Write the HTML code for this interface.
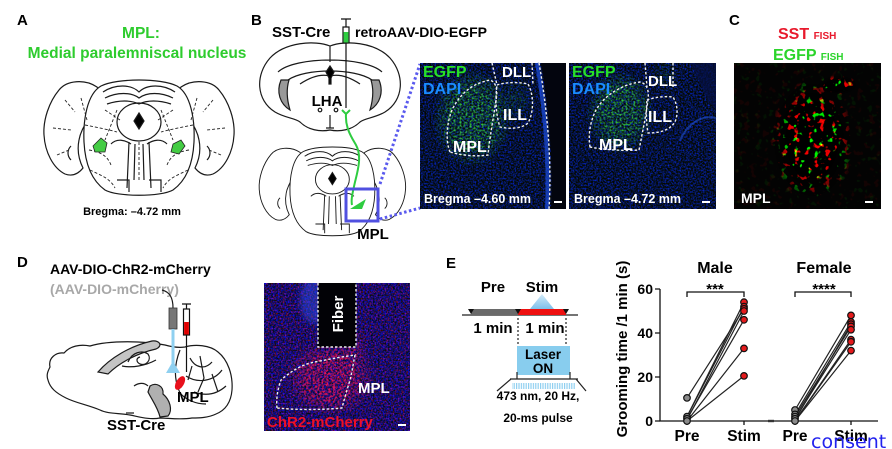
<!DOCTYPE html>
<html><head><meta charset="utf-8"><style>
html,body{margin:0;padding:0;background:#fff;}
svg{display:block;}
text{font-family:"Liberation Sans",Arial,sans-serif;font-weight:bold;}
</style></head><body>
<svg width="892" height="449" viewBox="0 0 892 449" xmlns="http://www.w3.org/2000/svg">
<defs>
  <filter id="fB" x="0" y="0" width="1" height="1" color-interpolation-filters="sRGB">
    <feTurbulence type="fractalNoise" baseFrequency="0.6" numOctaves="2" seed="4"/>
    <feColorMatrix type="matrix" values="0 0 0 0 0.02  0 0 0.22 0 -0.04  0 0 1.8 0 -0.68  0 0 0 0 1"/>
  </filter>
  <filter id="fG" x="0" y="0" width="1" height="1" color-interpolation-filters="sRGB">
    <feTurbulence type="fractalNoise" baseFrequency="0.5" numOctaves="2" seed="7"/>
    <feColorMatrix type="matrix" values="0 0 0 0 0.2  0 0 0 0 0.78  0 0 0 0 0.25  0 3 0 0 -1.3"/>
  </filter>
  <filter id="fD" x="0" y="0" width="1" height="1" color-interpolation-filters="sRGB">
    <feTurbulence type="fractalNoise" baseFrequency="0.6" numOctaves="2" seed="3"/>
    <feColorMatrix type="matrix" values="1.5 0 0 0 -0.7  0 0 0 0 0.05  0 0 1.7 0 -0.45  0 0 0 0 1"/>
  </filter>
  <filter id="fR" x="0" y="0" width="1" height="1" color-interpolation-filters="sRGB">
    <feTurbulence type="fractalNoise" baseFrequency="0.45" numOctaves="2" seed="9"/>
    <feColorMatrix type="matrix" values="0 0 0 0 0.92  0 0 0 0 0.08  0 0 0 0 0.35  3.5 0 0 0 -1.45"/>
  </filter>
  <filter id="fC" x="0" y="0" width="1" height="1" color-interpolation-filters="sRGB">
    <feTurbulence type="fractalNoise" baseFrequency="0.16" numOctaves="2" seed="11"/>
    <feColorMatrix type="matrix" values="12 0 0 0 -7.5  0 12 0 0 -7.7  0 0 0 0 0  0 0 0 0 1"/>
  </filter>
  <filter id="blur3"><feGaussianBlur stdDeviation="3"/></filter>
  <clipPath id="cD"><rect x="264" y="283" width="146" height="148"/></clipPath>
  <radialGradient id="rgW"><stop offset="0" stop-color="#fff"/><stop offset="0.55" stop-color="#fff" stop-opacity="0.9"/><stop offset="1" stop-color="#fff" stop-opacity="0"/></radialGradient>
  <radialGradient id="rgW2"><stop offset="0" stop-color="#fff" stop-opacity="0.9"/><stop offset="1" stop-color="#fff" stop-opacity="0"/></radialGradient>
  <linearGradient id="beam" x1="0" y1="0" x2="0" y2="1"><stop offset="0" stop-color="#cfe9f8"/><stop offset="1" stop-color="#6fb8e8"/></linearGradient>
  <pattern id="stripe" width="2.4" height="8" patternUnits="userSpaceOnUse"><rect width="1.2" height="8" fill="#8ecff0"/></pattern>

  <mask id="mG1" maskUnits="userSpaceOnUse" x="420" y="63" width="146" height="146">
    <ellipse cx="472" cy="118" rx="40" ry="50" fill="url(#rgW)"/>
    <ellipse cx="515" cy="100" rx="20" ry="25" fill="url(#rgW2)" opacity="0.5"/>
  </mask>
  <mask id="mG2" maskUnits="userSpaceOnUse" x="569" y="63" width="147" height="146">
    <ellipse cx="620" cy="112" rx="34" ry="42" fill="url(#rgW)"/>
    <ellipse cx="665" cy="75" rx="15" ry="20" fill="url(#rgW2)" opacity="0.35"/>
  </mask>
  <mask id="mR" maskUnits="userSpaceOnUse" x="264" y="283" width="146" height="148">
    <rect x="264" y="283" width="146" height="148" fill="#1c1c1c"/>
    <ellipse cx="330" cy="378" rx="45" ry="38" fill="url(#rgW)"/>
    <ellipse cx="352" cy="350" rx="20" ry="25" fill="url(#rgW2)" opacity="0.7"/>
  </mask>
  <mask id="mC" maskUnits="userSpaceOnUse" x="734" y="63" width="147" height="146">
    <rect x="734" y="63" width="147" height="146" fill="#101010"/>
    <ellipse cx="812" cy="140" rx="42" ry="62" fill="url(#rgW)"/>
    <ellipse cx="838" cy="85" rx="20" ry="10" fill="url(#rgW)"/>
  </mask>

  <g id="hb" stroke="#1a1a1a" stroke-width="1.2" fill="none">
    <path d="M52,7 C40,-1 22,0 14,10 C4,22 -2,40 -1,55 C0,72 8,88 20,94 C28,97 34,93 38,88 C34,80 32,70 34,60 C36,48 44,40 48,30 C52,20 56,12 52,7 Z" fill="#fff"/>
    <path d="M136,7 C148,-1 166,0 174,10 C184,22 190,40 189,55 C188,72 180,88 168,94 C160,97 154,93 150,88 C154,80 156,70 154,60 C152,48 144,40 140,30 C136,20 132,12 136,7 Z" fill="#fff"/>
    <path d="M56,6 C72,-2 116,-2 132,6 C146,14 150,40 149,62 C148,82 142,100 128,110 C116,117 72,117 60,110 C46,100 40,82 39,62 C38,40 42,14 56,6 Z" fill="#fff"/>
    <path d="M58,12 C70,4 86,4 94,12 C102,4 118,4 130,12 M60,18 C72,12 86,12 94,18 C102,12 116,12 128,18 M62,24 C74,20 86,20 94,24 C102,20 114,20 126,24"/>
    <ellipse cx="94" cy="42" rx="22" ry="19"/>
    <path d="M94,33 L99,41 L94,49 L89,41 Z" fill="#000"/>
    <path d="M84,62 L82,108 M104,62 L106,108 M90,64 L89,100 M98,64 L99,100 M72,100 L84,100 L84,112 M104,100 L116,100 L116,112"/>
    <path d="M66,64 C72,58 80,60 86,64 M122,64 C116,58 108,60 102,64"/>
    <path d="M26,66 C22,70 22,76 26,80 M162,66 C166,70 166,76 162,80"/>
  </g>
</defs>

<rect width="892" height="449" fill="#fff"/>

<!-- ===== Panel A ===== -->
<text x="17" y="25" font-size="15" fill="#000">A</text>
<text x="141" y="38" font-size="15.5" fill="#2ecc2e" text-anchor="middle">MPL:</text>
<text x="137" y="58" font-size="15.5" fill="#2ecc2e" text-anchor="middle">Medial paralemniscal nucleus</text>
<g transform="translate(45,80)">
  <use href="#hb"/>
  <g stroke="#222" stroke-width="0.9" fill="none" stroke-dasharray="3 2">
    <path d="M40,45 C55,48 65,50 72,52 M148,45 C133,48 123,50 116,52 M60,30 L75,40 M128,30 L113,40 M44,70 C55,72 62,75 66,85 M144,70 C133,72 126,75 122,85 M20,20 L30,32 M8,48 L26,50 M168,20 L158,32 M180,48 L162,50 M12,75 L24,70 M176,75 L164,70 M45,90 C55,95 65,98 70,108 M143,90 C133,95 123,98 118,108 M94,62 L94,100 M72,30 L60,60 M116,30 L128,60 M36,18 L42,40 M152,18 L146,40"/>
  </g>
  <path d="M48,66 L56,58 L62,63 L60,72 L50,72 Z" fill="#44cc44" stroke="#222" stroke-width="0.8"/>
  <path d="M126,72 L128,64 L136,60 L140,66 L134,74 Z" fill="#44cc44" stroke="#222" stroke-width="0.8"/>
</g>
<text x="132" y="215" font-size="11" fill="#000" text-anchor="middle">Bregma: –4.72 mm</text>

<!-- ===== Panel B ===== -->
<text x="251" y="25" font-size="15" fill="#000">B</text>
<text x="272" y="37" font-size="15" fill="#000">SST-Cre</text>
<text x="355" y="37" font-size="14" fill="#000">retroAAV-DIO-EGFP</text>
<g stroke="#1a1a1a" stroke-width="1.2" fill="none">
  <path d="M330,46 C315,40 285,42 270,58 C255,75 256,100 275,112 C285,118 295,118 300,122 C308,130 320,132 330,130 C340,132 352,130 360,122 C365,118 375,118 385,112 C404,100 405,75 390,58 C375,42 345,40 330,46 Z" fill="#fff"/>
  <path d="M330,46 L330,62 M278,72 C295,56 365,56 382,72 M288,80 C305,68 355,68 372,80 M300,84 C312,76 322,74 330,76 C338,74 348,76 360,84"/>
  <path d="M281,80 C276,92 280,104 290,110 C287,100 286,90 289,80 Z" fill="#999"/>
  <path d="M379,80 C384,92 380,104 370,110 C373,100 374,90 371,80 Z" fill="#999"/>
  <path d="M330,66 L334,72 L331,78 L331,84 L329,84 L329,78 L326,72 Z" fill="#000"/>
  <path d="M330,115 L330,128 M326,128 L334,128"/>
  <circle cx="320" cy="110" r="1.8"/><circle cx="336" cy="110" r="1.8"/>
</g>
<text x="327" y="106" font-size="15" fill="#000" text-anchor="middle">LHA</text>
<g stroke="#111" stroke-width="1.2" fill="none">
  <path d="M341,19 L351,19 M346,19 L346,27"/>
  <rect x="343" y="27" width="6" height="16" fill="#fff"/>
  <rect x="343.6" y="32" width="4.8" height="10.5" fill="#2ecc40" stroke="none"/>
  <path d="M346,43 L346,108"/>
</g>
<g transform="translate(260,147) scale(0.77)"><use href="#hb"/></g>
<g stroke="#2ecc40" stroke-width="2" fill="none">
  <path d="M342,110 L346,114 L350,110"/>
  <path d="M346,114 C345,128 352,138 356,145 C362,156 358,170 355,182 C352,195 351,200 352,205"/>
</g>
<polygon points="350,209 366,199 362,209" fill="#2ecc40"/>
<rect x="346" y="189" width="32" height="32" fill="none" stroke="#5050e0" stroke-width="3"/>
<path d="M380,184 L420,64 M380,219 L420,208" stroke="#5a5aee" stroke-width="3" stroke-dasharray="2.5 2.5" fill="none"/>
<text x="373" y="239" font-size="15" fill="#000" text-anchor="middle">MPL</text>

<!-- B image 1 -->
<g>
  <rect x="420" y="63" width="146" height="146" fill="#081545"/>
  <rect x="420" y="63" width="146" height="146" filter="url(#fB)"/>
  <rect x="420" y="63" width="146" height="146" filter="url(#fG)" mask="url(#mG1)"/>
  <path d="M541,63 C549,110 553,160 551,209 L566,209 L566,63 Z" fill="#03050e"/>
  <path d="M537,63 C545,110 549,160 547,209" stroke="#1d4fe0" stroke-width="4" fill="none" opacity="0.7"/>
  <g stroke="#eee" stroke-width="1.4" fill="none" stroke-dasharray="2.5 2">
    <path d="M539,63 C547,108 552,158 549,209"/>
    <path d="M492,63 L497,85 M532,63 L533,85"/>
    <path d="M497,85 C505,82 520,82 528,84 C534,95 534,112 528,123 C522,129 508,129 500,127 C496,115 495,100 497,85 Z"/>
    <path d="M450,152 C445,140 447,120 453,108 C460,95 470,84 490,80 C496,82 498,90 496,100 C494,115 490,135 488,155 C475,157 460,155 450,152 Z"/>
  </g>
  <text x="423" y="77" font-size="16" fill="#28e028">EGFP</text>
  <text x="423" y="94" font-size="16" fill="#1a8cff">DAPI</text>
  <text x="502" y="77" font-size="15" fill="#fff">DLL</text>
  <text x="503" y="120" font-size="16" fill="#fff">ILL</text>
  <text x="453" y="152" font-size="16" fill="#fff">MPL</text>
  <text x="424" y="203" font-size="12.5" fill="#fff">Bregma –4.60 mm</text>
  <rect x="554" y="201" width="8" height="2" fill="#fff"/>
</g>
<!-- B image 2 -->
<g>
  <rect x="569" y="63" width="147" height="146" fill="#081545"/>
  <rect x="569" y="63" width="147" height="146" filter="url(#fB)"/>
  <rect x="569" y="63" width="147" height="146" filter="url(#fG)" mask="url(#mG2)"/>
  <path d="M690,63 C700,80 705,100 716,110 L716,63 Z" fill="#061040" opacity="0.7"/>
  <path d="M680,140 C690,120 705,115 716,118" stroke="#2050d0" stroke-width="2" fill="none" opacity="0.6"/>
  <g stroke="#eee" stroke-width="1.4" fill="none" stroke-dasharray="2.5 2">
    <path d="M645,63 L647,87 M673,63 L673,87"/>
    <path d="M647,100 C655,97 665,96 673,97 C678,105 678,115 675,122 C670,130 660,133 648,133 C646,122 646,110 647,100 Z"/>
    <path d="M590,147 C588,135 590,122 596,110 C604,96 620,85 640,82 C648,84 649,92 648,100 C646,115 643,130 639,150 C625,151 605,150 590,147 Z"/>
  </g>
  <text x="572" y="77" font-size="16" fill="#28e028">EGFP</text>
  <text x="572" y="94" font-size="16" fill="#1a8cff">DAPI</text>
  <text x="648" y="86" font-size="15" fill="#fff">DLL</text>
  <text x="648" y="122" font-size="16" fill="#fff">ILL</text>
  <text x="599" y="150" font-size="16" fill="#fff">MPL</text>
  <text x="574" y="203" font-size="12.5" fill="#fff">Bregma –4.72 mm</text>
  <rect x="702" y="201" width="8" height="2" fill="#fff"/>
</g>

<!-- ===== Panel C ===== -->
<text x="729" y="25" font-size="15" fill="#000">C</text>
<text x="778" y="39" font-size="16" fill="#e8192c">SST <tspan font-size="10">FISH</tspan></text>
<text x="773" y="60" font-size="16" fill="#2bd42b">EGFP <tspan font-size="10">FISH</tspan></text>
<rect x="734" y="63" width="147" height="146" fill="#040404"/>
<rect x="734" y="63" width="147" height="146" filter="url(#fC)" mask="url(#mC)"/>
<text x="741" y="203" font-size="14" fill="#fff">MPL</text>
<rect x="865" y="201" width="8" height="2" fill="#fff"/>

<!-- ===== Panel D ===== -->
<text x="17" y="267" font-size="15" fill="#000">D</text>
<text x="50" y="274" font-size="14" fill="#000">AAV-DIO-ChR2-mCherry</text>
<text x="50" y="294" font-size="14" fill="#a8a8a8">(AAV-DIO-mCherry)</text>
<g stroke="#1a1a1a" stroke-width="1.2" fill="none">
  <path d="M50,367 C48,358 56,352 64,353 C70,346 80,344 90,346 C110,340 145,341 165,345 C172,347 178,348 185,347 C195,344 210,345 218,352 C228,360 233,375 232,390 C231,402 226,410 216,414 C208,418 198,418 192,418 C180,420 168,418 160,418 C150,420 140,417 130,415 C118,413 108,414 100,410 C88,405 76,403 66,398 C56,393 50,388 48,380 C46,375 48,371 50,367 Z" fill="#fff"/>
  <path d="M180,350 C174,365 174,380 180,393 C186,400 196,404 206,404"/>
  <path d="M190,358 C195,368 205,370 212,362 M186,376 C198,384 214,381 222,370 M194,392 C205,396 216,395 226,386 M200,356 L204,378 L198,392 M212,374 L218,392 M192,366 L188,380"/>
  <path d="M98,372 C110,358 130,346 152,341 C160,340 163,346 156,349 C138,353 120,362 108,374 Z" fill="#c4c4c4"/>
  <path d="M128,362 C132,352 142,350 148,354 C152,360 146,366 140,364 C136,362 136,358 140,357"/>
  <path d="M122,366 C132,368 145,366 156,360"/>
  <path d="M150,386 C156,382 164,386 163,394 C170,400 173,410 168,416 L160,417 C158,408 152,400 148,392 Z" fill="#b0b0b0"/>
  <path d="M148,386 C144,382 138,383 134,386 M126,413 L134,413" />
  <path d="M173,308 C173,298 170,292 162,290"/>
</g>
<rect x="169" y="308" width="8" height="21" fill="#777" stroke="#333" stroke-width="0.8"/>
<rect x="171.5" y="329" width="3" height="35" fill="#8fd0f0"/>
<polygon points="173,361 166,373 180,373" fill="#8fd0f0"/>
<g stroke="#111" stroke-width="1.2" fill="none">
  <path d="M182,304 L191,304 M186.5,304 L186.5,309"/>
  <rect x="183.5" y="309" width="6" height="26" fill="#fff"/>
  <path d="M186.5,335 L186.5,372"/>
</g>
<rect x="184.1" y="322" width="4.8" height="12.5" fill="#e00000"/>
<ellipse cx="180" cy="383" rx="4" ry="7.5" transform="rotate(30 180 383)" fill="#e8101c"/>
<text x="177" y="402" font-size="15" fill="#000">MPL</text>
<text x="107" y="430" font-size="15" fill="#000">SST-Cre</text>

<!-- D image -->
<g clip-path="url(#cD)">
  <rect x="264" y="283" width="146" height="148" fill="#1c1460"/>
  <rect x="264" y="283" width="146" height="148" filter="url(#fD)"/>
  <ellipse cx="314" cy="300" rx="14" ry="24" fill="#2a4ee8" opacity="0.5" filter="url(#blur3)"/>
  <rect x="264" y="283" width="146" height="148" filter="url(#fR)" mask="url(#mR)"/>
  <rect x="318" y="283" width="38" height="64" fill="#020206"/>
  <path d="M318,283 L318,347 L356,347 L356,283" stroke="#eee" stroke-width="1.4" fill="none" stroke-dasharray="2.5 2"/>
  <text transform="translate(343,314) rotate(-90)" font-size="15" fill="#fff" text-anchor="middle">Fiber</text>
  <path d="M277,408 C276,398 278,388 281,380 C290,372 300,366 310,363 C325,360 340,357 355,355 C353,365 352,372 350,380 C347,390 344,400 342,408 C320,410 298,410 277,408 Z" stroke="#eee" stroke-width="1.4" fill="none" stroke-dasharray="2.5 2"/>
  <text x="358" y="393" font-size="15" fill="#fff">MPL</text>
  <text x="267" y="427" font-size="15" fill="#ee1028">ChR2-mCherry</text>
  <rect x="398" y="424" width="8" height="2" fill="#fff"/>
</g>

<!-- ===== Panel E timeline ===== -->
<text x="446" y="268" font-size="15" fill="#000">E</text>
<text x="493" y="292" font-size="15" fill="#000" text-anchor="middle">Pre</text>
<text x="542" y="292" font-size="15" fill="#000" text-anchor="middle">Stim</text>
<polygon points="542,294 530,309 554,309" fill="url(#beam)" opacity="0.9"/>
<line x1="462" y1="315" x2="578" y2="315" stroke="#222" stroke-width="1.3"/>
<rect x="471" y="309" width="47" height="6" fill="#6a6a6a"/>
<rect x="518" y="309" width="48" height="6" fill="#ee1010"/>
<polygon points="468,309 474,309 471,314" fill="#111"/>
<polygon points="515,309 521,309 518,314" fill="#111"/>
<polygon points="563,309 569,309 566,314" fill="#111"/>
<text x="493" y="333" font-size="15" fill="#000" text-anchor="middle">1 min</text>
<text x="545" y="333" font-size="15" fill="#000" text-anchor="middle">1 min</text>
<path d="M518,318 L518,346 M566,318 L566,346" stroke="#222" stroke-width="1.2" stroke-dasharray="2 2" fill="none"/>
<rect x="517" y="346" width="53" height="29" fill="#88cdee"/>
<text x="543" y="359" font-size="13.5" fill="#000" text-anchor="middle">Laser</text>
<text x="543" y="373" font-size="13.5" fill="#000" text-anchor="middle">ON</text>
<path d="M510,379 L578,379 M517,372 L517,379 M570,372 L570,379 M511,379 L497,391 M576,379 L586,391" stroke="#222" stroke-width="1.2" fill="none"/>
<rect x="512" y="383" width="63" height="6" fill="url(#stripe)"/>
<text x="538" y="400" font-size="12" fill="#000" text-anchor="middle">473 nm, 20 Hz,</text>
<text x="538" y="422" font-size="12" fill="#000" text-anchor="middle">20-ms pulse</text>

<!-- ===== Panel E chart ===== -->
<text transform="translate(627,349) rotate(-90)" font-size="15" fill="#000" text-anchor="middle">Grooming time /1 min (s)</text>
<g stroke="#111" stroke-width="1.3" fill="none">
  <path d="M660,289 L660,421 L878,421"/>
  <path d="M655,289 L660,289 M655,333 L660,333 M655,377 L660,377 M655,421 L660,421"/>
  <path d="M687,421 L687,425 M744,421 L744,425 M795,421 L795,425 M851,421 L851,425"/>
  <path d="M687,297 L687,292 L744,292 L744,297 M795,297 L795,292 L851,292 L851,297"/>
</g>
<rect x="768" y="419.8" width="6" height="2.4" fill="#333"/>
<text x="653" y="294" font-size="14" fill="#000" text-anchor="end">60</text>
<text x="653" y="338" font-size="14" fill="#000" text-anchor="end">40</text>
<text x="653" y="382" font-size="14" fill="#000" text-anchor="end">20</text>
<text x="653" y="426" font-size="14" fill="#000" text-anchor="end">0</text>
<text x="715" y="273" font-size="16" fill="#000" text-anchor="middle">Male</text>
<text x="824" y="273" font-size="16" fill="#000" text-anchor="middle">Female</text>
<text x="715" y="294" font-size="15" fill="#000" text-anchor="middle">***</text>
<text x="824" y="294" font-size="15" fill="#000" text-anchor="middle">****</text>
<g stroke="#222" stroke-width="1.2">
  <line x1="687" y1="397.9" x2="744" y2="308.8"/>
  <line x1="687" y1="416.6" x2="744" y2="302.2"/>
  <line x1="687" y1="416.6" x2="744" y2="306.6"/>
  <line x1="687" y1="418.8" x2="744" y2="319.8"/>
  <line x1="687" y1="419.9" x2="744" y2="311"/>
  <line x1="687" y1="421" x2="744" y2="348.4"/>
  <line x1="687" y1="421" x2="744" y2="375.9"/>
  <line x1="795" y1="410" x2="851" y2="315.4"/>
  <line x1="795" y1="414.4" x2="851" y2="322"/>
  <line x1="795" y1="416.6" x2="851" y2="326.4"/>
  <line x1="795" y1="418.8" x2="851" y2="329.7"/>
  <line x1="795" y1="419.9" x2="851" y2="324.2"/>
  <line x1="795" y1="421" x2="851" y2="339.6"/>
  <line x1="795" y1="421" x2="851" y2="341.8"/>
  <line x1="795" y1="421" x2="851" y2="350.6"/>
</g>
<g stroke="#111" stroke-width="1.2" fill="#8a8a8a">
  <circle cx="687" cy="397.9" r="3.3"/><circle cx="687" cy="416.6" r="3.3"/><circle cx="687" cy="418.8" r="3.3"/><circle cx="687" cy="421" r="3.3"/>
  <circle cx="795" cy="410" r="3.3"/><circle cx="795" cy="414.4" r="3.3"/><circle cx="795" cy="416.6" r="3.3"/><circle cx="795" cy="418.8" r="3.3"/><circle cx="795" cy="421" r="3.3"/>
</g>
<g stroke="#111" stroke-width="1.2" fill="#e41a1c">
  <circle cx="744" cy="302.2" r="3.3"/><circle cx="744" cy="306.6" r="3.3"/><circle cx="744" cy="308.8" r="3.3"/><circle cx="744" cy="311" r="3.3"/><circle cx="744" cy="319.8" r="3.3"/><circle cx="744" cy="348.4" r="3.3"/><circle cx="744" cy="375.9" r="3.3"/>
  <circle cx="851" cy="315.4" r="3.3"/><circle cx="851" cy="322" r="3.3"/><circle cx="851" cy="324.2" r="3.3"/><circle cx="851" cy="326.4" r="3.3"/><circle cx="851" cy="329.7" r="3.3"/><circle cx="851" cy="339.6" r="3.3"/><circle cx="851" cy="341.8" r="3.3"/><circle cx="851" cy="350.6" r="3.3"/>
</g>
<text x="687" y="441" font-size="15.5" fill="#000" text-anchor="middle">Pre</text>
<text x="744" y="441" font-size="15.5" fill="#000" text-anchor="middle">Stim</text>
<text x="795" y="441" font-size="15.5" fill="#000" text-anchor="middle">Pre</text>
<text x="851" y="441" font-size="15.5" fill="#000" text-anchor="middle">Stim</text>
<text x="811" y="448" font-size="19" fill="#2222ee" style="font-family:'DejaVu Sans',sans-serif;font-weight:normal">consent</text>
</svg>
</body></html>
